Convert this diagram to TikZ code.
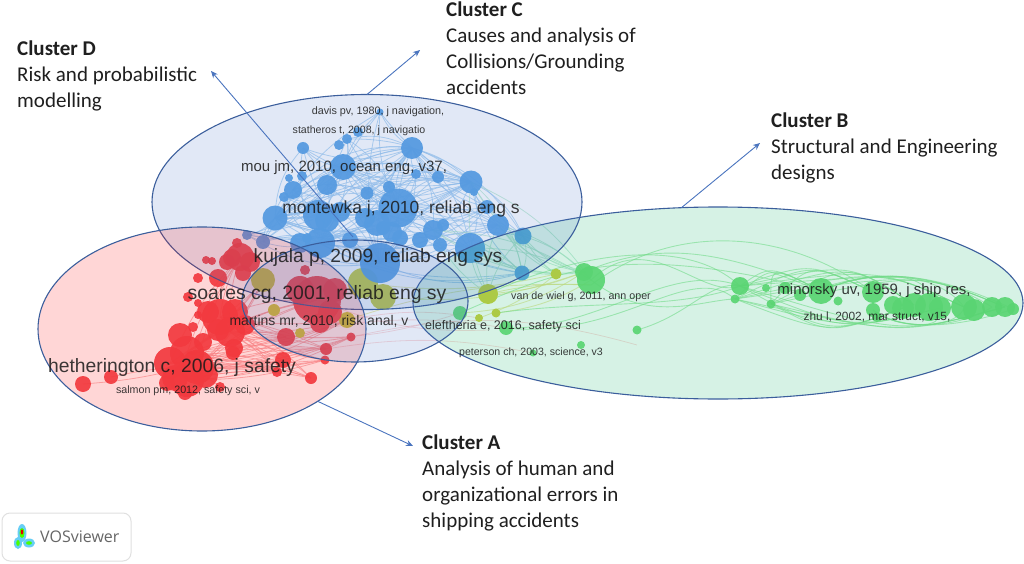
\documentclass[tikz,border=0pt]{standalone}
\usepackage{fontspec}
\setmainfont{Carlito}
\newfontfamily\labfont{Liberation Sans}
\newfontfamily\logofont{Open Sans}
\usetikzlibrary{shapes.geometric,arrows.meta}
\definecolor{bnode}{HTML}{5AA3E6}
\definecolor{rnode}{HTML}{F0444A}
\definecolor{gnode}{HTML}{6BDC76}
\definecolor{ynode}{HTML}{CDCF40}
\definecolor{ringc}{HTML}{3B5E9C}
\definecolor{arrowc}{HTML}{4A74BE}
\definecolor{fillb}{HTML}{4472C4}
\definecolor{fillg}{HTML}{00B060}
\tikzset{
  bigell/.style={ellipse,inner sep=0pt,outer sep=0pt,draw=ringc,line width=1.1pt,fill opacity=0.16,draw opacity=1},
  callout/.style={anchor=north west,inner sep=0pt,align=left,font=\fontsize{21}{26}\selectfont,text=black!88},
  clarrow/.style={draw=arrowc,line width=0.9pt,-{Stealth[length=7pt,width=6pt]}},
  lab/.style={inner sep=0pt,text=black!90,text opacity=0.85},
  edgeb/.style={draw=bnode!60,line width=0.8pt,opacity=0.7},
  edger/.style={draw=rnode!55,line width=0.8pt,opacity=0.65},
  edgeg/.style={draw=gnode!80,line width=0.9pt,opacity=0.6},
  edgey/.style={draw=ynode!65,line width=0.9pt,opacity=0.6},
}
\newcommand{\lab}[5]{\node[lab,font=\labfont\fontsize{#4}{#4}\selectfont] (#1) at (#2,#3) {#5};}
\begin{document}
\begin{tikzpicture}[x=1pt,y=-1pt]
\useasboundingbox (0,0) rectangle (1024,564);
% --- links
\foreach \a/\b in {398/208,320/243,471/182,380/263,343/167,275/218,412/148}{
  \foreach \x/\y/\bnd in {303/148/20,347/139/-20,412/148/25,471/182/15,498/225/-15,523/236/20,522/273/-20,433/230/18,293/190/-25,284/197/20,327/185/-18,367/193/15,389/187/-15,275/218/30,247/235/20,263/242/-25,318/215/15,400/238/-15,470/248/20,487/207/-25,438/177/20,416/174/-20,380/112/15}{
    \draw[edgeb] (\a,\b) to[bend left=\bnd] (\x,\y);
  }
}
\foreach \a/\b in {471/182,498/225,523/236,470/248,433/230}{
  \foreach \x/\y/\bnd in {591/280/15,556/274/-12,522/273/20,488/294/-15,584/272/-20}{
    \draw[edgeb,draw=bnode!30!gnode!50] (\a,\b) to[bend left=\bnd] (\x,\y);
  }
}
\foreach \a/\b in {187/353,197/367,170/363,220/317,230/332,187/380}{
  \foreach \x/\y/\bnd in {286/337/10,351/337/-12,326/349/8,325/360/-8,311/378/12,283/360/-10,317/300/12,263/280/-10,277/372/8,240/257/10,347/320/-8}{
    \draw[edger] (\a,\b) to[bend left=\bnd] (\x,\y);
  }
}
\foreach \x/\y/\bnd in {83/384/5,111/377/-5,220/387/8,185/393/-8}{
  \draw[edger] (187,367) to[bend left=\bnd] (\x,\y);
}
\foreach \a/\b/\x/\y/\bnd in {317/300/488/330/-12,347/320/479/318/10,351/337/637/345/14,326/349/533/353/10,300/333/506/328/10,286/337/460/313/-10}{
  \draw[edger,opacity=0.35] (\a,\b) to[bend left=\bnd] (\x,\y);
}
\foreach \a/\b/\x/\y/\bnd in {488/294/584/272/-8,488/294/591/285/8,479/318/556/274/-10,496/313/591/280/-12,363/283/556/274/-10,383/297/584/272/-12,347/320/591/285/10,460/313/584/272/-15}{
  \draw[edgey] (\a,\b) to[bend left=\bnd] (\x,\y);
}
\draw[edgeg] (591,280) .. controls (650,225) and (700,300) .. (740,286);
\draw[edgeg] (584,272) .. controls (660,240) and (720,250) .. (821,291);
\draw[edgeg] (591,285) .. controls (670,225) and (780,225) .. (873,292);
\draw[edgeg] (591,280) .. controls (650,325) and (700,300) .. (735,299);
\draw[edgeg] (506,328) .. controls (600,330) and (670,260) .. (740,286);
\draw[edgeg] (506,328) .. controls (620,340) and (690,260) .. (735,299);
\draw[edgeg] (637,330) .. controls (690,315) and (710,280) .. (740,286);
\draw[edgeg] (488,294) .. controls (560,260) and (680,230) .. (740,286);
\draw[edgeg] (460,313) .. controls (560,270) and (620,240) .. (821,291);
\draw[edgeg] (496,313) .. controls (590,300) and (680,310) .. (740,286);
\foreach \a/\b in {740/286,735/299,771/304}{
  \foreach \x/\y/\u/\v in {821/291/770/265,873/292/810/262,914/305/850/262,964/307/880/268,1005/307/920/272,903/308/830/335,940/308/850/330,1005/307/900/335}{
    \draw[edgeg] (\a,\b) .. controls (\u,\v) and (\u,\v) .. (\x,\y);
  }
}
\foreach \x/\y in {1013/309,992/307,964/307,929/307}{
  \draw[edgeg] (821,291) .. controls (880,265) and (940,275) .. (\x,\y);
  \draw[edgeg] (873,310) .. controls (900,332) and (960,328) .. (\x,\y);
}
% --- items
\foreach \x/\y/\r in {263/280/12,274/310/6,300/333/5,347/320/8,363/283/15,383/297/13,556/274/5.5,488/294/10,479/318/4,496/313/4.5}{
  \fill[ynode] (\x,\y) circle[radius=\r];
}
\foreach \x/\y/\r in {
 237/243/5,240/257/14,232/258/9,250/262/10,227/262/8,243/273/8,206/260/4,212/261/4,218/278/9,198/278/5,188/297/5,198/303/4,198/315/4,
 220/317/18,208/312/11,235/312/13,230/332/15,218/330/11,245/325/10,317/300/24,300/290/14,335/290/12,330/312/12,320/323/10,305/270/5,286/337/9,351/337/4.5,326/349/6,325/360/4.5,311/378/6,283/360/8,277/372/5,
 180/335/12,193/327/5,203/342/9,234/348/9,233/353/7,170/363/16,187/353/17,197/367/17,187/380/17,205/375/13,175/378/13,167/383/8,185/393/7,220/387/5,83/384/8,111/377/7}{
  \fill[rnode,fill opacity=0.92] (\x,\y) circle[radius=\r];
}
\foreach \x/\y/\r in {
 591/280/14,584/272/9,460/313/7,506/328/7,637/330/4.5,581/345/4,533/353/3.5,740/286/9,735/299/4.5,766/288/4,771/304/4.5,785/288/6,800/295/6,
 821/291/13,838/301/4.5,873/292/11,873/310/7,877/317/5,893/305/9,903/308/11,914/305/12,929/307/14,940/308/11,964/307/13,974/310/11,992/307/10,1005/307/10,1013/309/6}{
  \fill[gnode,fill opacity=0.92] (\x,\y) circle[radius=\r];
}
\foreach \x/\y/\r in {
 412/148/11,303/148/6,339/145/5,347/139/5,358/132/5,380/112/3.5,343/167/13,471/182/11.5,416/174/5,438/177/6,302/176/5,289/178/4,327/185/10,293/190/9,284/197/5,
 367/193/6.5,389/187/6,474/192/4,398/208/19.5,275/218/12.5,318/215/15,327/220/12,377/223/13,433/230/10,443/225/6,498/225/11,523/236/8.5,320/243/15,400/238/8,
 470/248/15,487/207/7,380/263/20,522/273/7.5,247/235/5,263/242/7,307/238/5,383/228/7,340/212/10,420/240/8,300/243/10,350/240/8,392/232/10,365/218/10,440/245/7}{
  \fill[bnode,fill opacity=0.95] (\x,\y) circle[radius=\r];
}
% --- cluster rings
\node[bigell,fill=fillg,minimum width=610pt,minimum height=192pt] (elB) at (718,303) {};
\node[bigell,fill=fillb,minimum width=430pt,minimum height=215pt] (elC) at (367,202) {};
\node[bigell,fill=red,minimum width=328pt,minimum height=204pt] (elA) at (202,329) {};
\node[bigell,fill=fillb,minimum width=226pt,minimum height=122pt] (elM) at (355,301) {};
% --- item labels
\lab{l1}{378}{112}{10.8}{davis pv, 1980, j navigation,}
\lab{l2}{359}{131}{10.6}{statheros t, 2008, j navigatio}
\lab{l3}{344}{168}{15}{mou jm, 2010, ocean eng, v37,}
\lab{l4}{401}{209}{17.5}{montewka j, 2010, reliab eng s}
\lab{l5}{378}{258}{19.2}{kujala p, 2009, reliab eng sys}
\lab{l6}{317}{294}{19.4}{soares cg, 2001, reliab eng sy}
\lab{l7}{319}{321}{14}{martins mr, 2010, risk anal, v}
\lab{l8}{172}{368}{19.3}{hetherington c, 2006, j safety}
\lab{l9}{188}{391}{10.7}{salmon pm, 2012, safety sci, v}
\lab{l10}{581}{297}{10.7}{van de wiel g, 2011, ann oper}
\lab{l11}{503}{326}{12.5}{eleftheria e, 2016, safety sci}
\lab{l12}{531}{353}{10.6}{peterson ch, 2003, science, v3}
\lab{l13}{874}{291}{15}{minorsky uv, 1959, j ship res,}
\lab{l14}{877}{317}{11.9}{zhu l, 2002, mar struct, v15,}
% --- callouts
\node[callout] (tD) at (17,40.5) {\textbf{Cluster D}\\Risk and probabilistic\\modelling};
\node[callout] (tC) at (446,1.5) {\textbf{Cluster C}\\Causes and analysis of\\Collisions/Grounding\\accidents};
\node[callout] (tB) at (771,112.5) {\textbf{Cluster B}\\Structural and Engineering\\designs};
\node[callout] (tA) at (422,434.5) {\textbf{Cluster A}\\Analysis of human and\\organizational errors in\\shipping accidents};
\coordinate (startD) at (353,237);
\coordinate (tipD) at (211,71);
\coordinate (tipC) at (420,50);
\coordinate (tipB) at (760,143);
\coordinate (tipA) at (413,446);
\draw[clarrow] (startD) -- (tipD);
\draw[clarrow] (elC.90) -- (tipC);
\draw[clarrow] (elB.111) -- (tipB);
\draw[clarrow] (elA.-32) -- (tipA);
% --- logo
\node[draw=black!12,line width=1pt,rounded corners=8pt,fill=white,minimum width=129pt,minimum height=48pt,inner sep=0pt] (logo) at (66.5,537) {};
\node[inner sep=0pt,anchor=west,text=black!60,font=\logofont\fontsize{16}{16}\selectfont] (logot) at (40,537) {VOSviewer};
\fill[cyan!60!white] (22,533) ellipse[x radius=4.5,y radius=9];
\fill[cyan!60!white] (18,543) ellipse[x radius=4,y radius=6];
\fill[cyan!60!white] (29,543) ellipse[x radius=6,y radius=4.5];
\fill[green!70!yellow] (22,533) ellipse[x radius=2.5,y radius=5];
\fill[green!70!yellow] (18,543) ellipse[x radius=1.8,y radius=3];
\fill[green!70!yellow] (29,543) ellipse[x radius=3,y radius=1.8];
\fill[red!90!black] (22,532) ellipse[x radius=1.3,y radius=2.5];
\end{tikzpicture}
\end{document}
